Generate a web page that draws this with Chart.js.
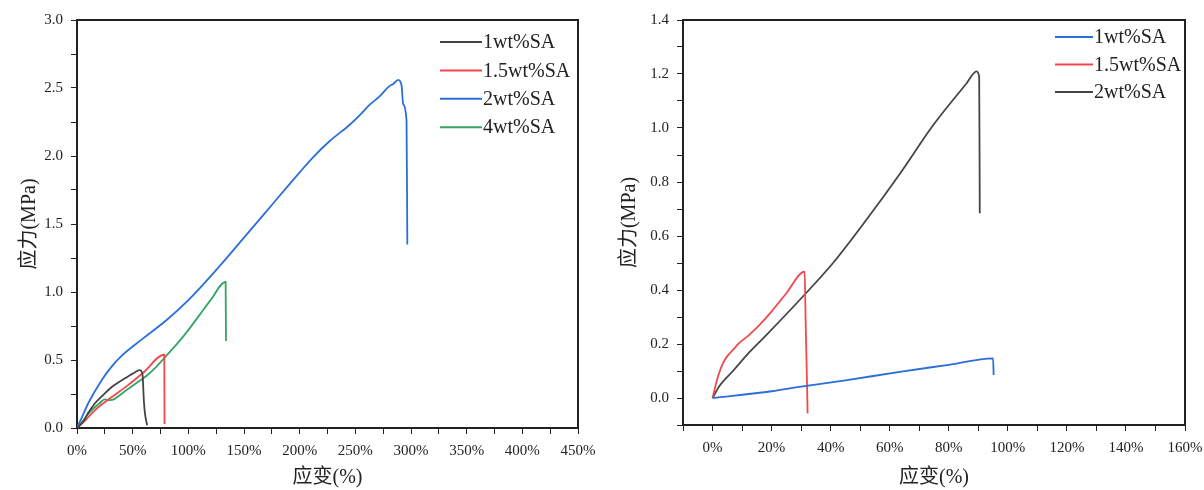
<!DOCTYPE html>
<html>
<head>
<meta charset="utf-8">
<script src="https://cdn.jsdelivr.net/npm/chart.js@4.4.0/dist/chart.umd.min.js"></script>
<style>
  body { margin: 0; background: #fff; }
  #left { position: absolute; left: 0; top: 0; }
  #right { position: absolute; left: 600px; top: 0; }
</style>
</head>
<body>
<canvas id="left" width="600" height="490"></canvas>
<canvas id="right" width="604" height="490"></canvas>
<script>
// 左图：应力-应变
const labelsL = ['1wt%SA', '1.5wt%SA', '2wt%SA', '4wt%SA'];
const strainL1 = [0, 5, 10, 16, 22, 31, 43, 50, 56.5, 58, 59, 60, 61, 63];
const stressL1 = [0, 0.04, 0.11, 0.18, 0.23, 0.30, 0.365, 0.40, 0.425, 0.415, 0.38, 0.21, 0.11, 0.02];
const strainL15 = [0, 8, 16, 30, 45, 60, 78.4, 78.6];
const stressL15 = [0, 0.06, 0.13, 0.22, 0.31, 0.41, 0.54, 0.03];
const strainL2 = [0, 5, 10, 22, 30, 40, 58, 80, 100, 127, 150, 175, 200, 212, 227, 245, 254, 262, 272, 280, 284, 288.5, 291.5, 293, 296, 296.7];
const stressL2 = [0, 0.09, 0.18, 0.35, 0.44, 0.53, 0.65, 0.79, 0.94, 1.18, 1.40, 1.64, 1.88, 1.99, 2.11, 2.23, 2.30, 2.37, 2.44, 2.51, 2.53, 2.56, 2.52, 2.38, 2.26, 1.35];
const strainL4 = [0, 5, 13, 20, 25, 30, 33, 43, 55, 62, 70, 79, 90, 100, 110, 120, 133.5, 133.8];
const stressL4 = [0, 0.05, 0.13, 0.18, 0.21, 0.205, 0.21, 0.27, 0.34, 0.38, 0.44, 0.52, 0.62, 0.72, 0.83, 0.94, 1.075, 0.64];

// 右图
const labelsR = ['1wt%SA', '1.5wt%SA', '2wt%SA'];
const strainR1 = [0, 20, 30, 45, 63.4, 80, 95, 95.2];
const stressR1 = [0, 0.025, 0.042, 0.065, 0.097, 0.123, 0.147, 0.085];
const strainR15 = [0, 1, 2, 3.5, 5, 6.9, 9, 12.5, 16, 20.1, 25, 31.2, 31.5, 32, 32.2];
const stressR15 = [0, 0.045, 0.085, 0.128, 0.155, 0.178, 0.203, 0.235, 0.272, 0.322, 0.388, 0.468, 0.3, 0.05, -0.057];
const strainR2 = [0, 2.4, 6.9, 12.5, 18.2, 29.5, 40.8, 52.1, 63.4, 74.7, 86, 89.4, 90.3, 90.5];
const stressR2 = [0, 0.045, 0.10, 0.17, 0.233, 0.363, 0.50, 0.66, 0.83, 1.01, 1.165, 1.21, 1.19, 0.684];

const BLACK = '#454545', RED = '#f2474b', BLUE = '#2a6fd8', GREEN = '#35a466';
const FONT = "'Liberation Serif', 'Noto Sans CJK SC', serif";
const INK = '#222';

function pts(xs, ys) {
  return xs.map((x, i) => ({ x, y: ys[i] }));
}

function ds(label, xs, ys, color) {
  return {
    label, data: pts(xs, ys),
    borderColor: color, backgroundColor: color,
    borderWidth: 1.8, pointRadius: 0,
    cubicInterpolationMode: 'monotone', fill: false
  };
}

// 图框上、右边线
const frame = {
  id: 'frame',
  afterDraw(chart) {
    const { ctx, chartArea: a } = chart;
    ctx.save();
    ctx.strokeStyle = INK;
    ctx.lineWidth = 2;
    ctx.beginPath();
    ctx.moveTo(a.left, a.top);
    ctx.lineTo(a.right, a.top);
    ctx.lineTo(a.right, a.bottom);
    ctx.stroke();
    ctx.restore();
  }
};

// 线段式图例
const lineLegend = {
  id: 'lineLegend',
  afterDraw(chart, args, o) {
    const { ctx, chartArea: a } = chart;
    ctx.save();
    ctx.font = '20px ' + FONT;
    ctx.textBaseline = 'middle';
    chart.data.datasets.forEach((d, i) => {
      const y = a.top + o.y + i * o.gap;
      const x = a.right + o.x;
      ctx.strokeStyle = d.borderColor;
      ctx.lineWidth = 2;
      ctx.beginPath();
      ctx.moveTo(x, y);
      ctx.lineTo(x + o.len, y);
      ctx.stroke();
      ctx.fillStyle = INK;
      ctx.fillText(d.label, x + o.len + 1, y + 1);
    });
    ctx.restore();
  }
};

function axes(xMin, xMax, xStep, xMajor, yMin, yMax, yStep, yMajor, yW, xH) {
  const grid = { drawOnChartArea: false, drawTicks: true, tickLength: 6, color: INK };
  const border = { color: INK, width: 2 };
  return {
    x: {
      type: 'linear', min: xMin, max: xMax,
      grid, border,
      ticks: {
        stepSize: xStep, autoSkip: false, maxRotation: 0, padding: 8,
        color: INK, font: { family: FONT, size: 15 },
        callback: v => (Math.round(v) % xMajor === 0 && v >= 0) ? v + '%' : ''
      },
      title: { display: true, text: '应变(%)', color: INK, font: { family: FONT, size: 20 }, padding: 0 },
      afterFit: s => { s.height = xH; s.paddingLeft = 0; s.paddingRight = 0; }
    },
    y: {
      type: 'linear', min: yMin, max: yMax,
      grid, border,
      ticks: {
        stepSize: yStep, autoSkip: false, padding: 8,
        color: INK, font: { family: FONT, size: 15 },
        callback: v => (Math.round(v * 100) % yMajor === 0 && v > -0.001) ? v.toFixed(1) : ''
      },
      title: { display: true, text: '应力(MPa)', color: INK, font: { family: FONT, size: 20 }, padding: { top: 18, bottom: 0 } },
      afterFit: s => { s.width = yW; s.paddingTop = 0; s.paddingBottom = 0; }
    }
  };
}

new Chart(document.getElementById('left'), {
  type: 'line',
  data: {
    datasets: [
      ds(labelsL[0], strainL1, stressL1, BLACK),
      ds(labelsL[1], strainL15, stressL15, RED),
      ds(labelsL[2], strainL2, stressL2, BLUE),
      ds(labelsL[3], strainL4, stressL4, GREEN)
    ]
  },
  options: {
    responsive: false, animation: false,
    layout: { padding: { top: 20, right: 22, left: 0, bottom: 0 } },
    scales: axes(0, 450, 25, 50, 0, 3, 0.25, 50, 77, 62),
    plugins: {
      legend: { display: false },
      tooltip: { enabled: false },
      lineLegend: { x: -138, y: 22, gap: 28.4, len: 42 }
    }
  },
  plugins: [frame, lineLegend]
});

new Chart(document.getElementById('right'), {
  type: 'line',
  data: {
    datasets: [
      ds(labelsR[0], strainR1, stressR1, BLUE),
      ds(labelsR[1], strainR15, stressR15, RED),
      ds(labelsR[2], strainR2, stressR2, BLACK)
    ]
  },
  options: {
    responsive: false, animation: false,
    layout: { padding: { top: 20, right: 19, left: 0, bottom: 0 } },
    scales: axes(-10, 160, 10, 20, -0.1, 1.4, 0.1, 20, 83, 65),
    plugins: {
      legend: { display: false },
      tooltip: { enabled: false },
      lineLegend: { x: -130, y: 17, gap: 27.5, len: 38 }
    }
  },
  plugins: [frame, lineLegend]
});
</script>
</body>
</html>
